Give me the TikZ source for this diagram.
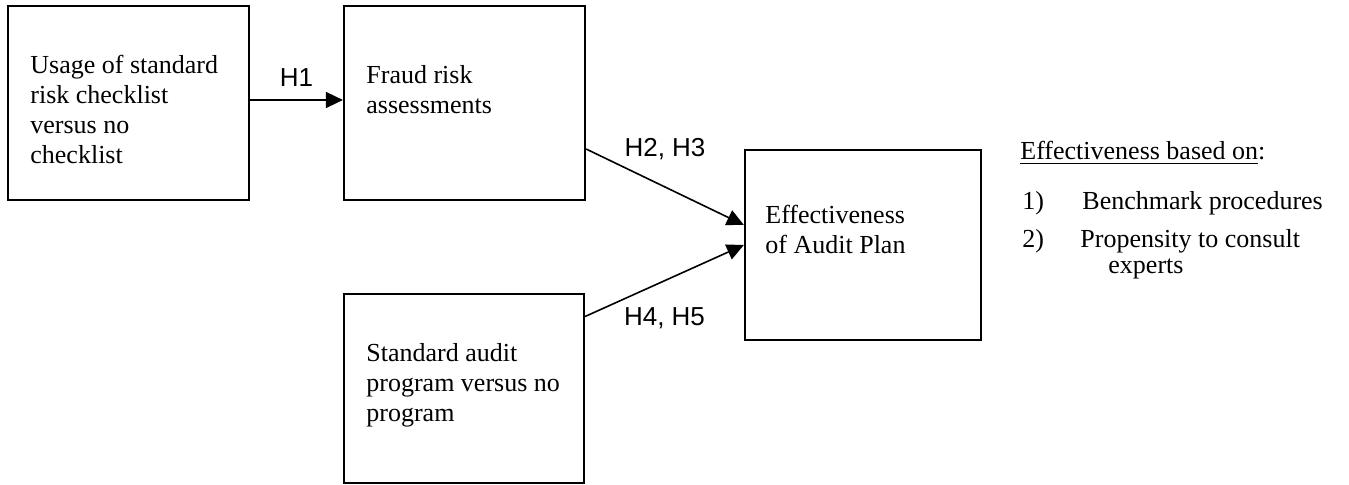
\documentclass[tikz,border=0pt]{standalone}
\usepackage{fontspec}
\setmainfont{Liberation Serif}
\newfontfamily\labelfont{Liberation Sans}
\usetikzlibrary{arrows.meta}
\tikzset{
  box/.style={draw, line width=1.1pt, inner sep=0pt, minimum width=120.5pt, minimum height=97pt},
  boxtext/.style={anchor=base west, align=left, inner sep=0pt, font=\fontsize{13}{15}\selectfont},
  listtext/.style={anchor=base west, inner sep=0pt, font=\fontsize{13}{15}\selectfont},
  hyp/.style={inner sep=0pt, font=\labelfont\fontsize{13}{15}\selectfont},
  link/.style={line width=0.8pt, -{Triangle[length=8.5pt,width=8pt]}}
}
\begin{document}
\begin{tikzpicture}[x=0.5pt, y=-0.5pt]
    \useasboundingbox (0,0) rectangle (1349,485);
    % boxes
    \node[box] (checklist) at (128.5,103) {};
    \node[box] (fraud) at (464.5,103) {};
    \node[box, minimum width=118pt, minimum height=95pt] (plan) at (863,245) {};
    \node[box, minimum width=120pt, minimum height=94.5pt] (program) at (464,388.5) {};
    % box texts (base = last line)
    \node[boxtext] (checklist-txt) at (30,164) {Usage of standard\\risk checklist\\versus no\\checklist};
    \node[boxtext] (fraud-txt) at (366,114) {Fraud risk\\assessments};
    \node[boxtext] (plan-txt) at (765,254) {Effectiveness\\of Audit Plan};
    \node[boxtext] (program-txt) at (366,422) {Standard audit\\program versus no\\program};
    % hypotheses
    \draw[link] ([yshift=1.5pt]checklist.east) -- node[hyp, above=6.5pt] (h1) {H1} ([yshift=1.5pt]fraud.west);
    \draw[link] ([yshift=-23pt]fraud.east) -- node[hyp, above=13pt] (h23) {H2, H3} ([yshift=10pt]plan.west);
    \draw[link] ([yshift=36pt]program.east) -- node[hyp, below=13pt] (h45) {H4, H5} (plan.west);
    % measures
    \node[listtext] (basis) at (1020,160) {\underline{Effectiveness based on}:};
    \node[listtext] (n1) at (1022,210) {1)};
    \node[listtext] (bench) at (1082,210) {Benchmark procedures};
    \node[listtext] (n2) at (1022,248) {2)};
    \node[listtext] (consult) at (1080,248) {Propensity to consult};
    \node[listtext] (experts) at (1108,274) {experts};
\end{tikzpicture}
\end{document}
